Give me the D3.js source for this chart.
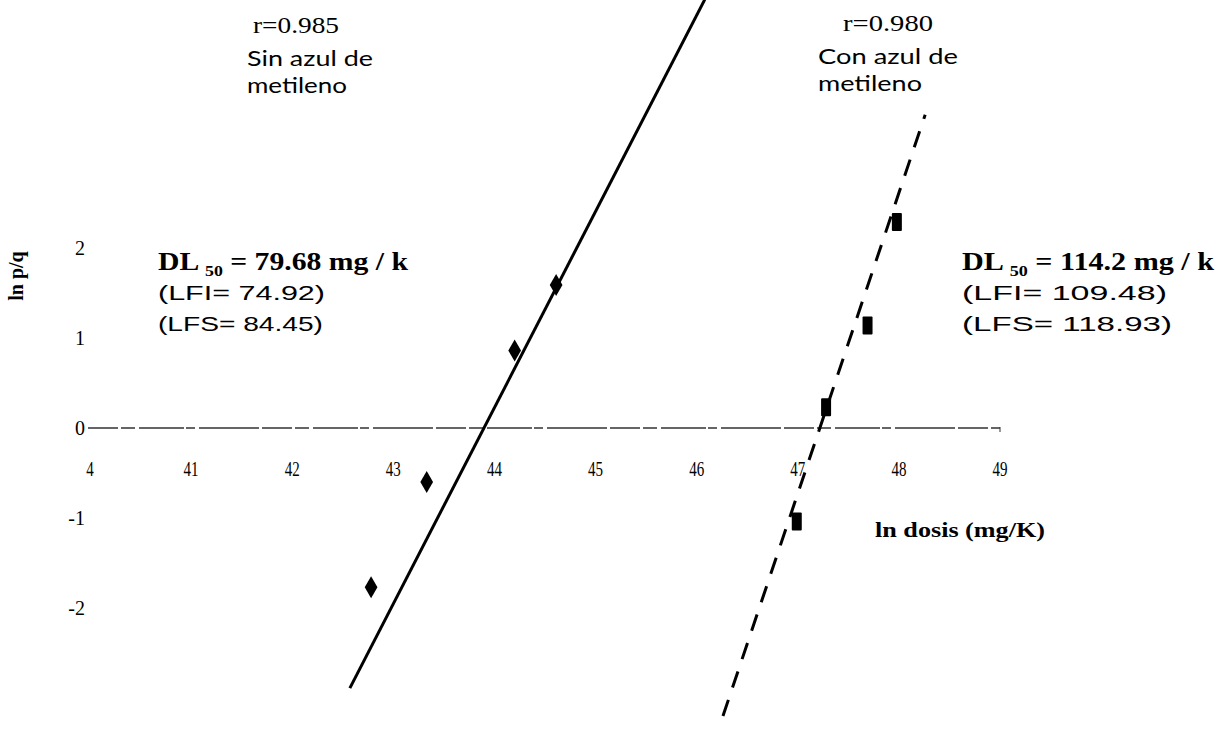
<!DOCTYPE html>
<html>
<head>
<meta charset="utf-8">
<script src="https://cdn.jsdelivr.net/npm/d3@7"></script>
<style>
	body { margin: 0; background: #fff; }
	#chart { width: 1219px; height: 730px; }
	.serif { font-family: "Liberation Serif", "DejaVu Serif", serif; }
	.sans { font-family: "Liberation Sans", Arial, sans-serif; }
	.human { font-family: Lato, "Open Sans", sans-serif; }
</style>
</head>
<body>
<div id="chart"></div>
<script>
// data
// ---------------------------
const x_ticks = [40, 41, 42, 43, 44, 45, 46, 47, 48, 49];
const x_tick_labels = ["4", "41", "42", "43", "44", "45", "46", "47", "48", "49"];
const y_ticks = [2, 1, 0, -1, -2];

// sin azul de metileno (diamonds)
const sin_x = [42.78, 43.33, 44.20, 44.61];
const sin_y = [-1.77, -0.60, 0.86, 1.59];
// con azul de metileno (squares)
const con_x = [46.99, 47.28, 47.69, 47.98];
const con_y = [-1.04, 0.23, 1.14, 2.29];

// fitted lines (end points)
const sin_line_x = [42.57, 46.08];
const sin_line_y = [-2.89, 4.76];
const con_line_x = [46.26, 48.26];
const con_line_y = [-3.20, 3.48];

const width = 1219, height = 730;

let svg = d3.select("#chart")
	.append("svg")
	.attr("width", width)
	.attr("height", height);

// scales
// ---------------------------
let x = d3.scaleLinear()
	.domain([40, 49])
	.range([90, 1000]);

let y = d3.scaleLinear()
	.domain([0, 1])
	.range([428, 338]);

// axis at y = 0
// ---------------------------
let axis = svg.append("g").attr("id", "axis");

axis.append("line")
	.attr("x1", x(40) - 2)
	.attr("x2", x(49))
	.attr("y1", y(0))
	.attr("y2", y(0))
	.attr("stroke", "#333")
	.attr("stroke-width", 1.3)
	.attr("stroke-dasharray", "30,3,14,4,45,2,9,4,60,3");

axis.append("line")
	.attr("x1", x(49))
	.attr("x2", x(49))
	.attr("y1", y(0) - 1)
	.attr("y2", y(0) + 4)
	.attr("stroke", "#333");

axis.selectAll(".xlab")
	.data(x_ticks)
	.enter()
	.append("text")
	.attr("class", "xlab serif")
	.attr("x", d => x(d))
	.attr("y", y(0) + 48)
	.attr("text-anchor", "middle")
	.style("font-size", "20px")
	.attr("textLength", (d, i) => x_tick_labels[i].length * 7.5)
	.attr("lengthAdjust", "spacingAndGlyphs")
	.text((d, i) => x_tick_labels[i]);

axis.selectAll(".ylab")
	.data(y_ticks)
	.enter()
	.append("text")
	.attr("class", "ylab serif")
	.attr("x", 85)
	.attr("y", d => y(d) + 7)
	.attr("text-anchor", "end")
	.style("font-size", "20px")
	.text(d => d);

// axis titles
svg.append("text")
	.attr("class", "serif")
	.attr("transform", "translate(23,276) rotate(-90)")
	.attr("text-anchor", "middle")
	.style("font-size", "20px")
	.style("font-weight", "bold")
	.text("ln p/q");

svg.append("text")
	.attr("class", "serif")
	.attr("x", 875)
	.attr("y", 537)
	.style("font-size", "22px")
	.style("font-weight", "bold")
	.attr("textLength", 170)
	.attr("lengthAdjust", "spacingAndGlyphs")
	.text("ln dosis (mg/K)");

// lines
// ---------------------------
let line = d3.line()
	.x(d => x(d[0]))
	.y(d => y(d[1]));

svg.append("path")
	.datum(d3.zip(sin_line_x, sin_line_y))
	.attr("d", line)
	.attr("fill", "none")
	.attr("stroke", "#000")
	.attr("stroke-width", 3);

svg.append("path")
	.datum(d3.zip(con_line_x, con_line_y))
	.attr("d", line)
	.attr("fill", "none")
	.attr("stroke", "#000")
	.attr("stroke-width", 3)
	.attr("stroke-dasharray", "17,13");

// points
// ---------------------------
svg.append("g")
	.selectAll("path")
	.data(d3.zip(sin_x, sin_y))
	.enter()
	.append("path")
	.attr("d", d3.symbol(d3.symbolDiamond, 140))
	.attr("transform", d => "translate(" + x(d[0]) + "," + y(d[1]) + ")")
	.attr("fill", "#000");

svg.append("g")
	.selectAll("rect")
	.data(d3.zip(con_x, con_y))
	.enter()
	.append("rect")
	.attr("x", d => x(d[0]) - 5)
	.attr("y", d => y(d[1]) - 9)
	.attr("width", 10)
	.attr("height", 18)
	.attr("rx", 1)
	.attr("fill", "#000");

// annotations
// ---------------------------
function note(px, py, txt, cls, size, len) {
	svg.append("text")
		.attr("class", cls)
		.attr("x", px)
		.attr("y", py)
		.style("font-size", size + "px")
		.attr("textLength", len)
		.attr("lengthAdjust", "spacingAndGlyphs")
		.text(txt);
}

note(253, 33, "r=0.985", "serif", 23, 86);
note(247, 66, "Sin azul de", "human", 22, 126);
note(247, 93, "metileno", "human", 22, 100);

note(843, 31, "r=0.980", "serif", 23, 90);
note(818, 64, "Con azul de", "human", 22, 140);
note(818, 91, "metileno", "human", 22, 104);

function dl(px, py, value, len) {
	let t = svg.append("text")
		.attr("class", "serif")
		.attr("x", px)
		.attr("y", py)
		.style("font-size", "25px")
		.style("font-weight", "bold")
		.attr("textLength", len)
		.attr("lengthAdjust", "spacingAndGlyphs");
	t.append("tspan").text("DL ");
	t.append("tspan").attr("dy", 6).style("font-size", "15px").text("50");
	t.append("tspan").attr("dy", -6).text(" = " + value + " mg / k");
}

dl(158, 270, "79.68", 250);
note(158, 300, "(LFI= 74.92)", "sans", 21, 167);
note(158, 331, "(LFS= 84.45)", "sans", 21, 165);

dl(962, 270, "114.2", 252);
note(962, 300, "(LFI= 109.48)", "sans", 21, 205);
note(962, 331, "(LFS= 118.93)", "sans", 21, 210);
</script>
</body>
</html>
